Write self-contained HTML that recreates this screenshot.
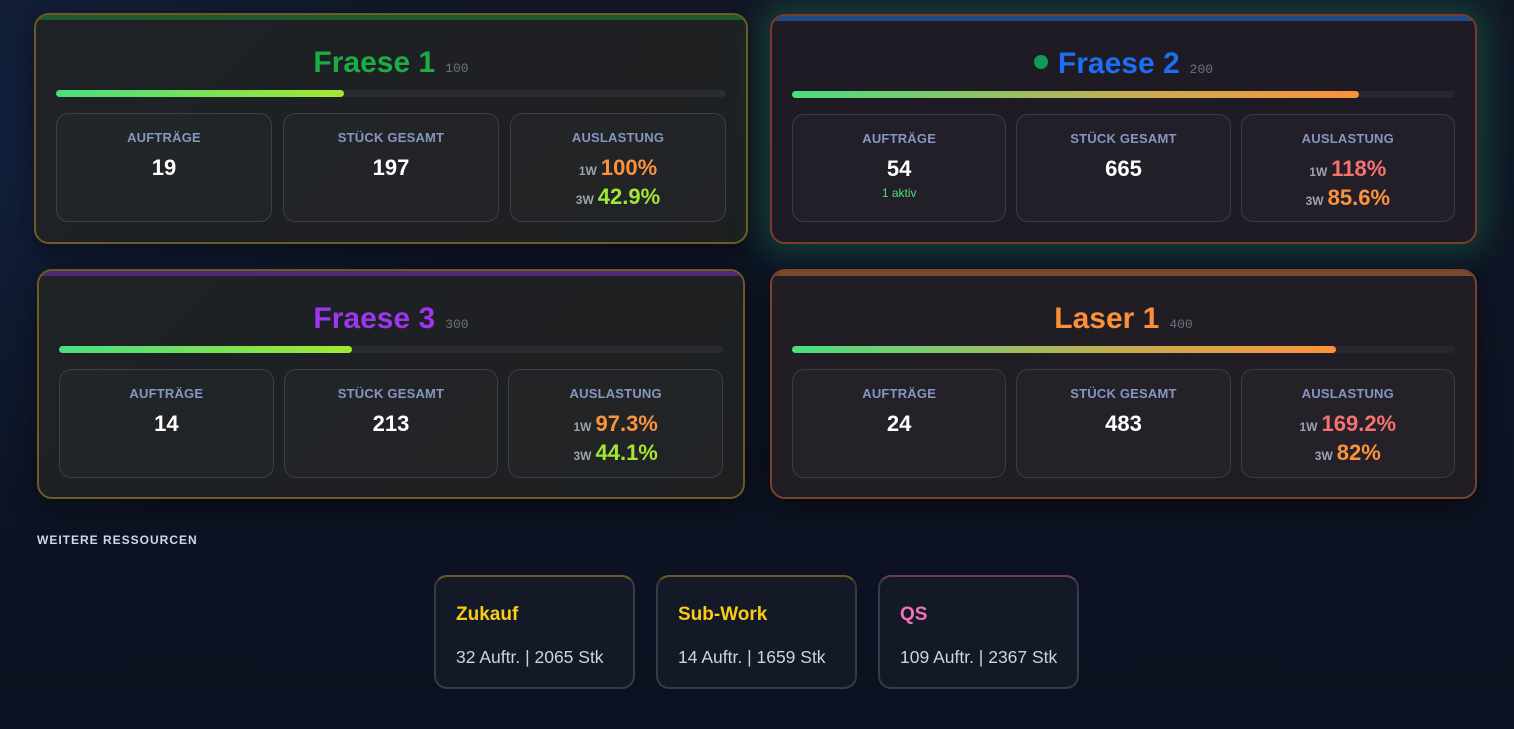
<!DOCTYPE html>
<html><head><meta charset="utf-8">
<style>
*{box-sizing:border-box;margin:0;padding:0}
html,body{width:1514px;height:729px;overflow:hidden}
body{position:relative;font-family:"Liberation Sans",sans-serif;
background:radial-gradient(ellipse 500px 420px at 0px 120px,rgba(20,40,80,.55),rgba(20,40,80,0) 100%),linear-gradient(180deg,#111826 0%,#0e1524 40%,#0b1120 100%);}
.card{position:absolute;border:2px solid #6e5a24;border-radius:15px;overflow:hidden;box-shadow:0 8px 30px rgba(0,0,0,.45)}
.card .top{position:absolute;left:0;right:0;top:0;height:5px}
.title{position:absolute;left:0;right:0;top:30px;height:36px;line-height:36px;text-align:center;white-space:nowrap}
.title .n{font-size:30px;font-weight:bold}
.title .id{font-family:"Liberation Mono",monospace;font-size:13px;color:#6b7280;margin-left:10px}
.title .dot{display:inline-block;width:14px;height:14px;border-radius:50%;background:#0f9a55;margin-right:10px;vertical-align:4px}
.bar{position:absolute;top:75px;left:20px;right:20px;height:7px;border-radius:4px;background:#2a2c2f}
.bar i{display:block;height:7px;border-radius:4px}
.boxes{position:absolute;top:98px;left:20px;right:20px;height:108px;display:flex;gap:10px}
.box{flex:1;position:relative;border:1px solid #3c3f45;border-radius:12px;background:rgba(255,255,255,.018);text-align:center}
.lab{position:absolute;left:0;right:0;top:16px;line-height:16px;font-size:13px;font-weight:bold;color:#8597c0;letter-spacing:.2px}
.val{position:absolute;left:0;right:0;top:40px;line-height:28px;font-size:22px;font-weight:bold;color:#fff}
.u1,.u2{position:absolute;left:0;right:0;height:29px;line-height:29px;font-size:22px;font-weight:bold;white-space:nowrap}
.u1{top:39px}.u2{top:68px}
.u1 small,.u2 small{font-size:12px;color:#9ca3af;margin-right:4px}
.akt{position:absolute;left:0;right:0;top:71px;line-height:14px;font-size:12px;color:#4ade80}
.o{color:#fb923c}.l{color:#a3e635}.r{color:#f87171}
.sec{position:absolute;left:37px;top:533px;font-size:12px;font-weight:bold;color:#cfd8e6;letter-spacing:1px}
.sc{position:absolute;top:575px;width:201px;height:114px;border:2px solid #363b46;border-radius:13px;background:#131927}
.sc .t{position:absolute;left:20px;top:26px;line-height:24px;font-size:19px;font-weight:bold}
.sc .d{position:absolute;left:20px;top:70px;line-height:20px;font-size:17.5px;color:#cbd5e1}
</style></head><body>

<!-- Fraese 1 -->
<div class="card" style="left:34px;top:13px;width:714px;height:231px;background:linear-gradient(135deg,#1f2226,#1d1f21);">
  <div class="top" style="background:#1d5a2e"></div>
  <div class="title"><span class="n" style="color:#1aad45">Fraese 1</span><span class="id">100</span></div>
  <div class="bar"><i style="width:43%;background:linear-gradient(90deg,#4ade80,#a3e635)"></i></div>
  <div class="boxes" style="gap:11px;height:109px">
    <div class="box"><div class="lab">AUFTRÄGE</div><div class="val">19</div></div>
    <div class="box"><div class="lab">STÜCK GESAMT</div><div class="val">197</div></div>
    <div class="box"><div class="lab">AUSLASTUNG</div><div class="u1"><small>1W</small><span class="o">100%</span></div><div class="u2"><small>3W</small><span class="l">42.9%</span></div></div>
  </div>
</div>

<!-- Fraese 2 -->
<div class="card" style="left:770px;top:14px;width:707px;height:230px;border-color:#7a3a2c;background:#1f1b24;box-shadow:0 0 34px 8px rgba(34,170,110,.3)">
  <div class="top" style="background:#1e4a8c"></div>
  <div class="title"><span class="dot"></span><span class="n" style="color:#1c6ef2">Fraese 2</span><span class="id">200</span></div>
  <div class="bar" style="background:#2a2630"><i style="width:85.5%;background:linear-gradient(90deg,#4ade80,#c6ad52 60%,#fb923c)"></i></div>
  <div class="boxes">
    <div class="box" style="border-color:#3d3a45"><div class="lab">AUFTRÄGE</div><div class="val">54</div><div class="akt">1 aktiv</div></div>
    <div class="box" style="border-color:#3d3a45"><div class="lab">STÜCK GESAMT</div><div class="val">665</div></div>
    <div class="box" style="border-color:#3d3a45"><div class="lab">AUSLASTUNG</div><div class="u1"><small>1W</small><span class="r">118%</span></div><div class="u2"><small>3W</small><span class="o">85.6%</span></div></div>
  </div>
</div>

<!-- Fraese 3 -->
<div class="card" style="left:37px;top:269px;width:708px;height:230px;background:linear-gradient(135deg,#1f2225,#1d1f21);">
  <div class="top" style="background:#4c2a74"></div>
  <div class="title"><span class="n" style="color:#a035ef">Fraese 3</span><span class="id">300</span></div>
  <div class="bar"><i style="width:44.1%;background:linear-gradient(90deg,#4ade80,#a3e635)"></i></div>
  <div class="boxes" style="height:109px">
    <div class="box"><div class="lab">AUFTRÄGE</div><div class="val">14</div></div>
    <div class="box"><div class="lab">STÜCK GESAMT</div><div class="val">213</div></div>
    <div class="box"><div class="lab">AUSLASTUNG</div><div class="u1"><small>1W</small><span class="o">97.3%</span></div><div class="u2"><small>3W</small><span class="l">44.1%</span></div></div>
  </div>
</div>

<!-- Laser 1 -->
<div class="card" style="left:770px;top:269px;width:707px;height:230px;border-color:#7a4030;background:#201d24;">
  <div class="top" style="background:#7a4a30"></div>
  <div class="title"><span class="n" style="color:#fb8f3a">Laser 1</span><span class="id">400</span></div>
  <div class="bar" style="background:#2a2630"><i style="width:82%;background:linear-gradient(90deg,#4ade80,#c6ad52 60%,#fb923c)"></i></div>
  <div class="boxes" style="height:109px">
    <div class="box" style="border-color:#3d3a45"><div class="lab">AUFTRÄGE</div><div class="val">24</div></div>
    <div class="box" style="border-color:#3d3a45"><div class="lab">STÜCK GESAMT</div><div class="val">483</div></div>
    <div class="box" style="border-color:#3d3a45"><div class="lab">AUSLASTUNG</div><div class="u1"><small>1W</small><span class="r">169.2%</span></div><div class="u2"><small>3W</small><span class="o">82%</span></div></div>
  </div>
</div>

<div class="sec">WEITERE RESSOURCEN</div>

<div class="sc" style="left:434px;border-top-color:#6b5a1e"><div class="t" style="color:#facc15">Zukauf</div><div class="d">32 Auftr. | 2065 Stk</div></div>
<div class="sc" style="left:656px;border-top-color:#6b5a1e"><div class="t" style="color:#facc15">Sub-Work</div><div class="d">14 Auftr. | 1659 Stk</div></div>
<div class="sc" style="left:878px;border-top-color:#6b3a5c"><div class="t" style="color:#f472b6">QS</div><div class="d">109 Auftr. | 2367 Stk</div></div>

</body></html>
